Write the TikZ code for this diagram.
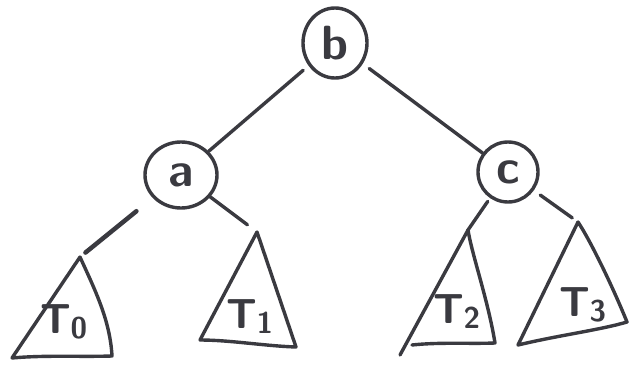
\documentclass[tikz,border=0pt]{standalone}
\usetikzlibrary{shapes.geometric}
\definecolor{ink}{RGB}{58,58,64}
\newcommand{\subtreelabel}[1]{T\kern-1pt\raisebox{-5pt}{\fontsize{30}{30}\selectfont #1}}
\begin{document}
\begin{tikzpicture}[x=1pt,y=-1pt,
  pen/.style={draw=ink, line width=3.4pt, line cap=round, line join=round},
  keynode/.style={pen, ellipse, minimum width=64pt, minimum height=70pt, inner sep=0pt, font=\sffamily\bfseries\fontsize{48}{48}\selectfont, text=ink},
  sublabel/.style={font=\sffamily\bfseries\fontsize{42}{42}\selectfont, text=ink, inner sep=0pt},
  link/.style={pen}]
\useasboundingbox[fill=white] (0,0) rectangle (629,369);
\node[keynode] (b) at (335,43) {b};
\node[keynode, minimum width=72pt, minimum height=66pt] (a) at (181,175) {a};
\node[keynode, minimum width=60pt, minimum height=60pt] (c) at (508,172) {c};
\coordinate (t0) at (80,257);
\coordinate (t1) at (257,232);
\coordinate (t2) at (468,230);
\coordinate (t3) at (578,222);
% subtrees
\draw[pen] (t0) -- (12,358) .. controls (45,355) and (80,357) .. (112,356) .. controls (110,320) and (95,290) .. (t0);
\draw[pen] (t1) -- (200,340) .. controls (230,340) and (265,346) .. (296,347) -- cycle;
\draw[pen] (t2) -- (400,355);
\draw[pen] (412,345) .. controls (440,342) and (470,344) .. (495,343) .. controls (488,300) and (472,255) .. (t2);
\draw[pen] (t3) -- (518,345) .. controls (560,335) and (600,330) .. (627,322) .. controls (612,285) and (590,240) .. (t3);
\node[sublabel] (l0) at (64,322) {\subtreelabel{0}};
\node[sublabel] (l1) at (250,317) {\subtreelabel{1}};
\node[sublabel] (l2) at (457,312) {\subtreelabel{2}};
\node[sublabel] (l3) at (583,305) {\subtreelabel{3}};
% connectors
\draw[link, shorten <=7pt] (b) -- (a);
\draw[link, shorten <=8pt] (b) -- (c);
\draw[link, line width=4.5pt, shorten <=21pt, shorten >=7pt] (a) -- (t0);
\draw[link, shorten >=12pt] (a) -- (t1);
\draw[link, shorten <=4pt] (c) -- (t2);
\draw[link, shorten <=8pt, shorten >=7pt] (c) -- (t3);
\end{tikzpicture}
\end{document}
